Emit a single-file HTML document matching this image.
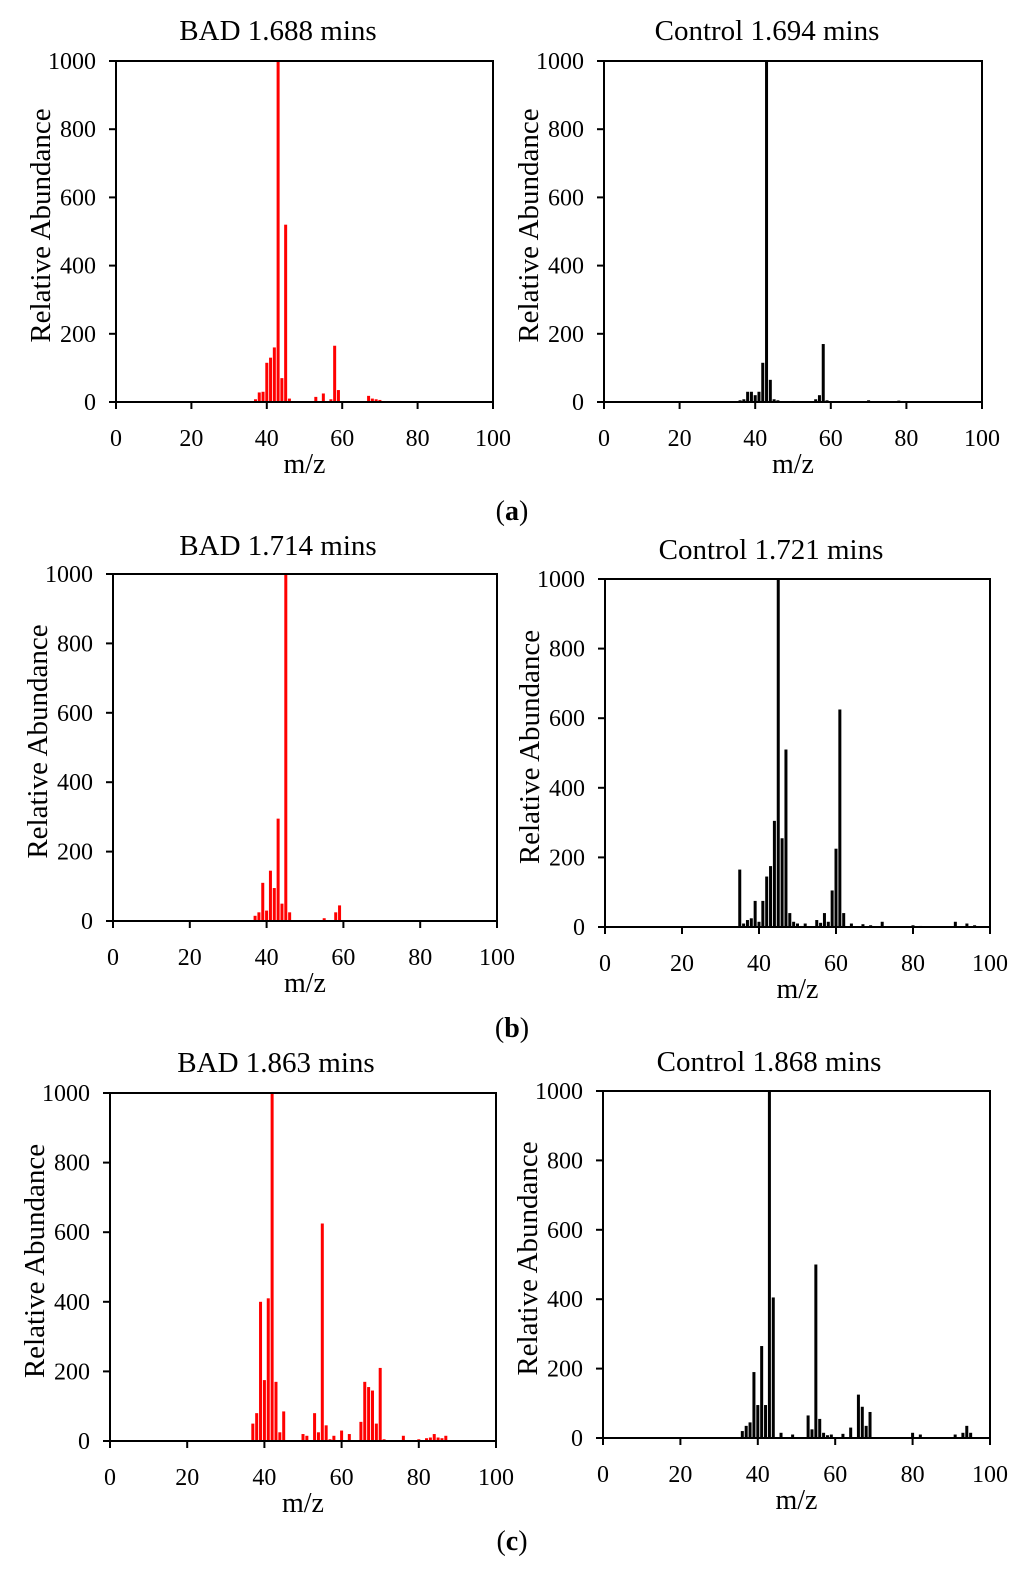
<!DOCTYPE html>
<html><head><meta charset="utf-8"><style>
body{margin:0;background:#fff;}
svg{display:block;font-family:"Liberation Serif",serif;}
</style></head><body>
<svg id="fig" width="1024" height="1571" viewBox="0 0 1024 1571"></svg>
<script>
const titles=["BAD 1.688 mins","Control 1.694 mins","BAD 1.714 mins","Control 1.721 mins","BAD 1.863 mins","Control 1.868 mins"];
const xTicks=[0,20,40,60,80,100];
const yTicks=[0,200,400,600,800,1000];
const mzA1=[37,38,39,40,41,42,43,44,45,46,53,55,57,58,59,67,68,69,70];
const abA1=[8,28,30,115,130,160,1000,70,520,10,15,25,8,165,35,18,10,8,6];
const mzA2=[36,37,38,39,40,41,42,43,44,45,46,50,56,57,58,59,70,78];
const abA2=[5,8,30,30,20,30,115,1000,65,8,5,3,8,20,170,5,5,4];
const mzB1=[37,38,39,40,41,42,43,44,45,46,55,58,59];
const abB1=[15,25,110,30,145,95,295,50,1000,25,8,25,45];
const mzB2=[35,36,37,38,39,40,41,42,43,44,45,46,47,48,49,50,51,52,55,56,57,58,59,60,61,62,64,67,69,72,80,82,91,94,96];
const abB2=[165,10,20,25,75,15,75,145,175,305,1000,255,510,40,15,10,3,10,20,12,40,15,105,225,625,40,10,8,5,15,5,3,15,10,5];
const mzC1=[37,38,39,40,41,42,43,44,45,50,51,53,54,55,56,57,58,60,62,65,66,67,68,69,70,71,76,80,82,83,84,85,86,87];
const abC1=[50,80,400,175,410,1000,170,25,85,20,15,80,25,625,45,5,15,30,20,55,170,155,145,50,210,5,15,5,8,10,20,10,8,15];
const mzC2=[36,37,38,39,40,41,42,43,44,46,49,53,54,55,56,57,58,59,62,64,66,67,68,69,80,82,91,93,94,95];
const abC2=[20,35,45,190,95,265,95,1000,405,15,10,65,25,500,55,15,8,10,12,30,125,90,35,75,15,10,10,15,35,15];
const panels=[
 {x0:116,x1:493,y0:402,y1:61,ty:30,tx:278,mz:mzA1,ab:abA1,c:"#ff0000",n:"a-bad"},
 {x0:604,x1:982,y0:402,y1:61,ty:30,tx:767,mz:mzA2,ab:abA2,c:"#000",n:"a-control"},
 {x0:113,x1:497,y0:921,y1:574,ty:545,tx:278,mz:mzB1,ab:abB1,c:"#ff0000",n:"b-bad"},
 {x0:605,x1:990,y0:927,y1:579,ty:549,tx:771,mz:mzB2,ab:abB2,c:"#000",n:"b-control"},
 {x0:110,x1:496,y0:1441,y1:1093,ty:1062,tx:276,mz:mzC1,ab:abC1,c:"#ff0000",n:"c-bad"},
 {x0:603,x1:990,y0:1438,y1:1091,ty:1061,tx:769,mz:mzC2,ab:abC2,c:"#000",n:"c-control"}
];
const svg=document.getElementById('fig');
const NS="http://www.w3.org/2000/svg";
function mk(tag,attrs,parent,text){const e=document.createElementNS(NS,tag);for(const k in attrs)e.setAttribute(k,attrs[k]);if(text!==undefined)e.textContent=text;parent.appendChild(e);return e;}
panels.forEach((p,i)=>{
 const g=mk('g',{},svg);
 
 
 const sx=v=>p.x0+(p.x1-p.x0)*v/100;
 const sy=v=>p.y0+(p.y1-p.y0)*v/1000;
 const t=mk('text',{x:p.tx,y:p.ty+10,'font-size':29,'text-anchor':'middle'},g,titles[i]);
 
 
 p.mz.forEach((m,j)=>{
  const b=mk('rect',{x:sx(m)-1.5,y:sy(p.ab[j]),width:3,height:p.y0-sy(p.ab[j]),fill:p.c},g);
  
  
 });
 const fr=mk('rect',{x:p.x0,y:p.y1,width:p.x1-p.x0,height:p.y0-p.y1,fill:'none',stroke:'#000','stroke-width':2},g);
 
 
 xTicks.forEach(v=>{
  mk('line',{x1:sx(v),x2:sx(v),y1:p.y0,y2:p.y0+7,stroke:'#000','stroke-width':2},g);
  const l=mk('text',{x:sx(v),y:p.y0+44,'font-size':24,'text-anchor':'middle'},g,v);
  
  
 });
 yTicks.forEach(v=>{
  mk('line',{x1:p.x0-7,x2:p.x0,y1:sy(v),y2:sy(v),stroke:'#000','stroke-width':2},g);
  const l=mk('text',{x:p.x0-20,y:sy(v)+8,'font-size':24,'text-anchor':'end'},g,v);
  
  
 });
 const xt=mk('text',{x:(p.x0+p.x1)/2,y:p.y0+71,'font-size':28,'text-anchor':'middle'},g,'m/z');
 
 
 const cy=(p.y0+p.y1)/2-6, cx=p.x0-66;
 const yt=mk('text',{x:cx,y:cy,'font-size':29,'text-anchor':'middle',transform:'rotate(-90 '+cx+' '+cy+')'},g,'Relative Abundance');
 
 
});
[["(a)",520],["(b)",1037],["(c)",1550]].forEach(([s,y])=>{
 const t=mk('text',{x:512,y:y,'font-size':28,'text-anchor':'middle'},svg);
 
 
 mk('tspan',{},t,'(');mk('tspan',{'font-weight':'bold'},t,s[1]);mk('tspan',{},t,')');
});
</script>
</body></html>
